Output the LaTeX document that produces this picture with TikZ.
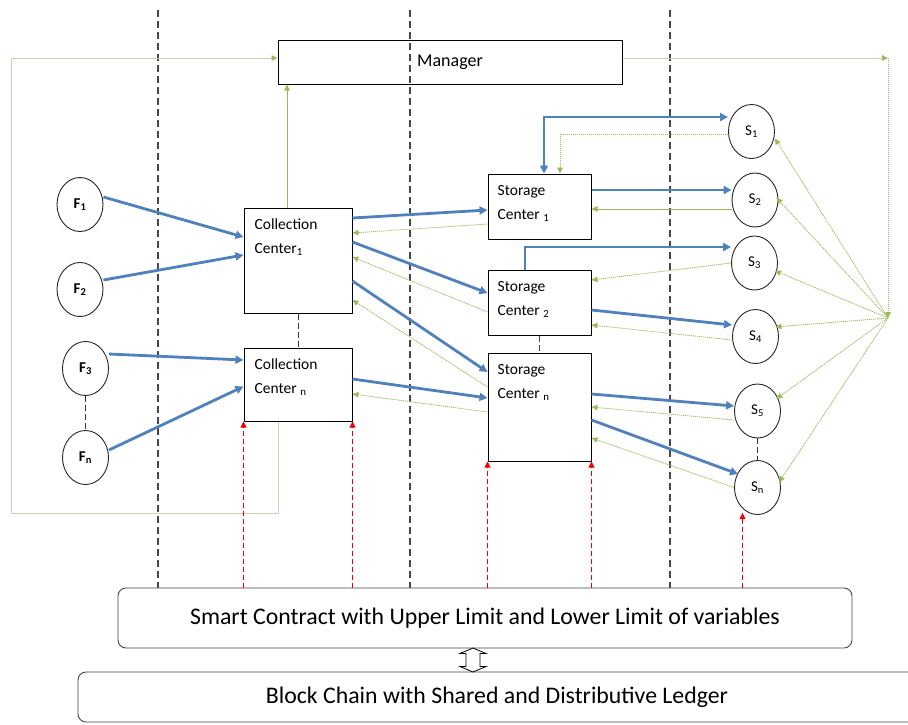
\documentclass[tikz,border=0pt]{standalone}
\usepackage{fontspec}
\setmainfont{Carlito}
\usetikzlibrary{arrows.meta,shapes.geometric,shapes.arrows,calc}
\definecolor{bblue}{HTML}{4F81BD}
\definecolor{ggreen}{HTML}{9BBB59}
\definecolor{lgreen}{HTML}{C8D3B4}
\definecolor{rred}{HTML}{F00000}
\definecolor{dgray}{HTML}{45454D}
\begin{document}
\begin{tikzpicture}[x=1pt,y=-1pt,
  box/.style={draw=black, line width=1pt, rectangle, inner sep=0pt},
  circ/.style={draw=black!85, line width=0.9pt, ellipse, minimum width=46pt, minimum height=54pt, inner sep=0pt, font=\fontsize{15}{18}\selectfont},
  btxt/.style={anchor=base west, inner sep=0pt, font=\fontsize{15.5}{18}\selectfont},
  flow/.style={draw=bblue, line width=2.8pt, -{Triangle[length=8pt,width=8pt]}},
  back/.style={draw=ggreen, line width=0.8pt, dash pattern=on 1.2pt off 0.8pt, -{Triangle[length=6pt,width=5.5pt]}},
  loopline/.style={draw=lgreen, line width=1pt, -{Triangle[length=6pt,width=5.5pt,color=ggreen]}},
  redarr/.style={draw=rred, line width=0.8pt, dash pattern=on 5pt off 3pt, -{Triangle[length=6pt,width=6pt]}},
  divider/.style={draw=dgray, line width=1.1pt, dash pattern=on 7pt off 4pt},
  link/.style={draw=black!80, line width=0.9pt, dash pattern=on 6pt off 3pt},
  bigtxt/.style={font=\fontsize{23.8}{26}\selectfont}
]
\clip (0,0) rectangle (908,724);
\useasboundingbox (0,0) rectangle (908,724);

% bottom boxes
\node[draw=dgray, line width=0.9pt, rounded corners=8pt, minimum width=734pt, minimum height=60pt, bigtxt] (smart) at (485,618) {Smart Contract with Upper Limit and Lower Limit of variables};
\node[draw=dgray, line width=0.9pt, rounded corners=8pt, minimum width=838pt, minimum height=50pt, bigtxt] (chain) at (497,697) {Block Chain with Shared and Distributive Ledger};
\coordinate (dbl) at (473,660);
\draw[draw=black, line width=0.8pt, fill=white, line join=miter]
  ([shift={(0,-12)}]dbl) -- ([shift={(13,-6.5)}]dbl) -- ([shift={(7,-6.5)}]dbl)
  -- ([shift={(7,6.5)}]dbl) -- ([shift={(13,6.5)}]dbl) -- ([shift={(0,12)}]dbl)
  -- ([shift={(-13,6.5)}]dbl) -- ([shift={(-7,6.5)}]dbl) -- ([shift={(-7,-6.5)}]dbl)
  -- ([shift={(-13,-6.5)}]dbl) -- cycle;

% dividers
\foreach \x/\n in {158/d1,410/d2,670/d3} {
  \coordinate (\n) at (\x,10);
  \draw[divider] (\n) -- (\n |- smart.north);
}

% manager
\node[box, minimum width=344pt, minimum height=44pt, font=\fontsize{18}{20}\selectfont] (mgr) at (450,62) {Manager};

% farmers
\node[circ] (f1) at (80,204.5) {\textbf{F\textsubscript{1}}};
\node[circ] (f2) at (80,289.5) {\textbf{F\textsubscript{2}}};
\node[circ] (f3) at (85.5,368.5) {\textbf{F\textsubscript{3}}};
\node[circ] (fn) at (85.5,457.5) {\textbf{F\textsubscript{n}}};
\draw[link] (f3) -- (fn);

% collection centers
\node[box, minimum width=108pt, minimum height=105pt] (cc1) at (298,260.5) {};
\node[box, minimum width=108pt, minimum height=73pt] (ccn) at (298,384.5) {};
\node[btxt] (cc1a) at ([xshift=11pt,yshift=-22pt]cc1.north west) {Collection};
\node[btxt] (cc1b) at ([xshift=11pt,yshift=-46pt]cc1.north west) {Center\textsubscript{1}};
\node[btxt] (ccna) at ([xshift=11pt,yshift=-22pt]ccn.north west) {Collection};
\node[btxt] (ccnb) at ([xshift=11pt,yshift=-46pt]ccn.north west) {Center \textsubscript{n}};
\draw[link] (cc1) -- (ccn);

% storage centers
\node[box, minimum width=103pt, minimum height=65pt] (sc1) at (539.5,206.5) {};
\node[box, minimum width=103pt, minimum height=65pt] (sc2) at (539.5,302.5) {};
\node[box, minimum width=103pt, minimum height=108pt] (scn) at (539.5,407) {};
\node[btxt] (sc1a) at ([xshift=10pt,yshift=-22pt]sc1.north west) {Storage};
\node[btxt] (sc1b) at ([xshift=10pt,yshift=-46pt]sc1.north west) {Center \textsubscript{1}};
\node[btxt] (sc2a) at ([xshift=10pt,yshift=-22pt]sc2.north west) {Storage};
\node[btxt] (sc2b) at ([xshift=10pt,yshift=-46pt]sc2.north west) {Center \textsubscript{2}};
\node[btxt] (scna) at ([xshift=10pt,yshift=-22pt]scn.north west) {Storage};
\node[btxt] (scnb) at ([xshift=10pt,yshift=-46pt]scn.north west) {Center \textsubscript{n}};
\draw[link, draw=dgray] (sc2) -- (scn);

% stores
\node[circ] (s1) at (751.5,131.5) {S\textsubscript{1}};
\node[circ] (s2) at (755,200) {S\textsubscript{2}};
\node[circ] (s3) at (754.5,263) {S\textsubscript{3}};
\node[circ] (s4) at (755.5,336.5) {S\textsubscript{4}};
\node[circ] (s5) at (757.5,411) {S\textsubscript{5}};
\node[circ] (sn) at (757.5,487.5) {S\textsubscript{n}};
\draw[link] (s5) -- (sn);

% blue flows farmers -> collection
\draw[flow] ([yshift=7.5pt]f1.east) -- ([yshift=23.5pt]cc1.west);
\draw[flow] ([yshift=9.5pt]f2.east) -- ([yshift=5.5pt]cc1.west);
\draw[flow] ([yshift=14.5pt]f3.east) -- ([yshift=24.5pt]ccn.west);
\draw[flow] ([yshift=7.5pt]fn.east) -- ([yshift=-2pt]ccn.west);

% collection -> storage
\draw[flow] ([yshift=42.5pt]cc1.east) -- ([yshift=-3.5pt]sc1.west);
\draw[flow] ([yshift=18.5pt]cc1.east) -- ([yshift=9.5pt]sc2.west);
\draw[flow] ([yshift=-20.5pt]cc1.east) -- ([yshift=35pt]scn.west);
\draw[flow] ([yshift=5.5pt]ccn.east) -- ([yshift=9pt]scn.west);

% storage -> collection (green)
\draw[back] ([yshift=-17.5pt]sc1.west) -- ([yshift=27.5pt]cc1.east);
\draw[back] ([yshift=-9.5pt]sc2.west) -- ([yshift=3.5pt]cc1.east);
\draw[back] ([yshift=20pt]scn.west) -- ([yshift=-39.5pt]cc1.east);
\draw[back] ([yshift=-5pt]scn.west) -- ([yshift=-9.5pt]ccn.east);

% storage <-> stores
\draw[flow, {Triangle[length=8pt,width=8pt]}-{Triangle[length=8pt,width=8pt]}] ([xshift=4.5pt]sc1.north) |- ([yshift=14.5pt]s1.west);
\draw[back] ([yshift=-2.5pt]s1.west) -| ([xshift=20.5pt]sc1.north);
\draw[flow] ([yshift=16.5pt]sc1.east) -- ([yshift=16.5pt]sc1.east -| s2.west);
\draw[back] ([yshift=-9pt]s2.west) -- ([yshift=-9pt]s2.west -| sc1.east);
\draw[flow] ([xshift=-14.5pt]sc2.north) |- ([yshift=16pt]s3.west);
\draw[back] (s3.west) -- ([yshift=22.5pt]sc2.east);
\draw[flow] ([yshift=-7.5pt]sc2.east) -- ([yshift=11.5pt]s4.west);
\draw[back] ([yshift=-3.5pt]s4.west) -- ([yshift=-22.5pt]sc2.east);
\draw[flow] ([yshift=13pt]scn.east) -- ([yshift=5pt]s5.west);
\draw[back] ([yshift=-9pt]s5.west) -- (scn.east);
\draw[flow] ([yshift=-13pt]scn.east) -- ([xshift=4pt,yshift=13.5pt]sn.west);
\draw[back] (sn.west) -- ([yshift=-31pt]scn.east);

% manager links
\coordinate (ct) at ([xshift=-11pt]cc1.north);
\draw[back] (ct) -- (ct |- mgr.south);
\coordinate (lp) at (11,513);
\draw[loopline] ([xshift=-20pt]ccn.south) |- (lp) |- ([yshift=4pt]mgr.west);
\coordinate (mr) at (888,58);
\coordinate (hub) at (888,318);
\draw[loopline] ([yshift=4pt]mgr.east) -- (mr);
\draw[back] (mr) -- (hub);
\draw[back, shorten >=1pt] (hub) -- (s1.-15);
\draw[back, shorten >=-3pt] (hub) -- (s2.east);
\draw[back, shorten >=-2pt] (hub) -- (s3.-21);
\draw[back, shorten >=-2pt] (hub) -- (s4.24);
\draw[back, shorten >=-2pt] (hub) -- (s5.33);
\draw[back, shorten >=-2pt] (hub) -- (sn.17);

% red dashed arrows from smart contract
\draw[redarr] (smart.north -| ccn.south west) -- (ccn.south west);
\draw[redarr] (smart.north -| ccn.south east) -- (ccn.south east);
\draw[redarr] (smart.north -| scn.south west) -- (scn.south west);
\draw[redarr] (smart.north -| scn.south east) -- (scn.south east);
\coordinate (snb) at ([xshift=-15pt,yshift=2pt]sn.south);
\draw[redarr] (smart.north -| snb) -- (snb);
\end{tikzpicture}
\end{document}
